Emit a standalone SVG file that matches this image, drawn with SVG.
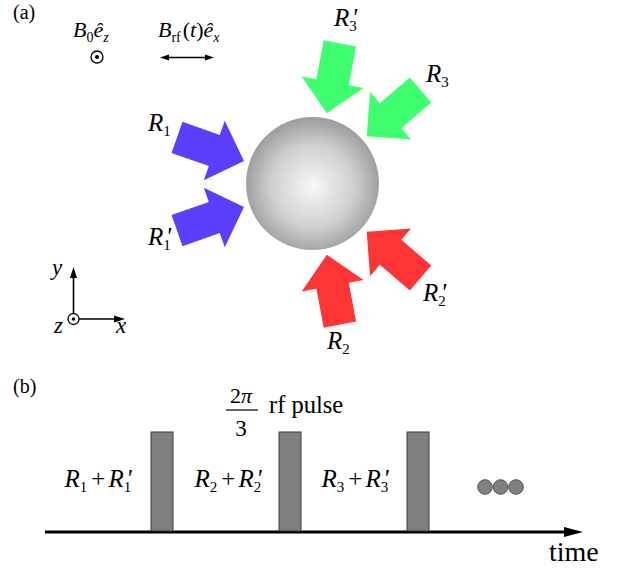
<svg xmlns="http://www.w3.org/2000/svg" width="630" height="570" viewBox="0 0 630 570">
<style>
text{font-family:"Liberation Serif","Times New Roman","DejaVu Serif",serif;fill:#000}
.i{font-style:italic}
.s{font-size:14px}
.ls{font-size:15px}
.lab{font-size:25px}
.blu{fill:#5b3fff}
.grn{fill:#3fff70}
.red{fill:#ff3535}
.pulse{fill:#7f7f7f;stroke:#3a3a3a;stroke-width:1}
.dot{fill:#808080;stroke:#555;stroke-width:1}
.ax{stroke:#000;stroke-width:1.6;fill:none}
</style>
<defs>
<radialGradient id="sph" cx="50%" cy="52%" r="52%">
<stop offset="0" stop-color="#f8f8f8"/>
<stop offset="0.6" stop-color="#cfcfcf"/>
<stop offset="1" stop-color="#9c9c9c"/>
</radialGradient>
<polygon id="blk" points="0,0 -31.5,-31.5 -31.5,-16.5 -71,-16.5 -71,16.5 -31.5,16.5 -31.5,31.5"/>
</defs>
<rect width="630" height="570" fill="#fff"/>

<g id="panel-a">
<text x="13" y="19" font-size="20">(a)</text>

<g id="B0">
<text x="73" y="37" font-size="22"><tspan class="i">B</tspan><tspan class="s" dy="5">0</tspan><tspan class="i" dy="-5">ê</tspan><tspan class="s i" dy="5">z</tspan></text>
<circle cx="97" cy="57" r="6" fill="none" stroke="#000" stroke-width="1.3"/>
<circle cx="97" cy="57" r="2" fill="#000"/>
</g>

<g id="Brf">
<text x="158" y="37" font-size="22"><tspan class="i">B</tspan><tspan class="s" dy="5">rf</tspan><tspan dy="-5" dx="2">(</tspan><tspan class="i">t</tspan><tspan>)</tspan><tspan class="i">ê</tspan><tspan class="s i" dy="5">x</tspan></text>
<line x1="167" y1="57.5" x2="206" y2="57.5" stroke="#000" stroke-width="1.6"/>
<polygon points="160,57.5 169,54.5 169,60.5" fill="#000"/>
<polygon points="214,57.5 205,54.5 205,60.5" fill="#000"/>
</g>

<g id="sphere">
<circle cx="312.5" cy="183.5" r="66.5" fill="url(#sph)"/>
</g>

<g id="R1">
<use href="#blk" class="blu" transform="translate(244,161) rotate(19.4)"/>
<text x="148" y="131" class="lab"><tspan class="i">R</tspan><tspan class="ls" dy="5">1</tspan></text>
</g>
<g id="R1p">
<use href="#blk" class="blu" transform="translate(244,207) rotate(-19.4)"/>
<text x="148" y="245" class="lab"><tspan class="i">R</tspan><tspan class="ls" dy="5">1</tspan><tspan class="i" dx="-5" dy="-5">'</tspan></text>
</g>
<g id="R3">
<use href="#blk" class="grn" transform="rotate(120 312.5 184) translate(244,161) rotate(19.4)"/>
<text x="426" y="82" class="lab"><tspan class="i">R</tspan><tspan class="ls" dy="5">3</tspan></text>
</g>
<g id="R3p">
<use href="#blk" class="grn" transform="rotate(120 312.5 184) translate(244,207) rotate(-19.4)"/>
<text x="334" y="26" class="lab"><tspan class="i">R</tspan><tspan class="ls" dy="5">3</tspan><tspan class="i" dx="-5" dy="-5">'</tspan></text>
</g>
<g id="R2">
<use href="#blk" class="red" transform="rotate(240 312.5 184) translate(244,161) rotate(19.4)"/>
<text x="327" y="349" class="lab"><tspan class="i">R</tspan><tspan class="ls" dy="5">2</tspan></text>
</g>
<g id="R2p">
<use href="#blk" class="red" transform="rotate(240 312.5 184) translate(244,207) rotate(-19.4)"/>
<text x="423" y="301" class="lab"><tspan class="i">R</tspan><tspan class="ls" dy="5">2</tspan><tspan class="i" dx="-5" dy="-5">'</tspan></text>
</g>

<g id="axes">
<circle cx="73.5" cy="319" r="5.5" fill="none" stroke="#000" stroke-width="1.3"/>
<circle cx="73.5" cy="319" r="1.8" fill="#000"/>
<line class="ax" x1="73.5" y1="313.5" x2="73.5" y2="276"/>
<polygon points="73.5,267 70,278 77,278" fill="#000"/>
<line class="ax" x1="79" y1="319" x2="116" y2="319"/>
<polygon points="125,319 114,315.5 114,322.5" fill="#000"/>
<text x="52" y="275" font-size="23" class="i">y</text>
<text x="54" y="333" font-size="23" class="i">z</text>
<text x="116" y="333" font-size="23" class="i">x</text>
</g>
</g>

<g id="panel-b">
<text x="13" y="393" font-size="20">(b)</text>

<g id="pulse-label">
<text x="241" y="403" font-size="22" text-anchor="middle"><tspan>2</tspan><tspan class="i">π</tspan></text>
<line x1="226" y1="410" x2="258" y2="410" stroke="#000" stroke-width="1.2"/>
<text x="241" y="436" font-size="23" text-anchor="middle">3</text>
<text x="269" y="413" font-size="24.5">rf pulse</text>
</g>

<g id="connectors">
<line x1="45" y1="532" x2="568" y2="532" stroke="#000" stroke-width="3"/>
<polygon points="583,532 564,527 564,537" fill="#000"/>
</g>

<g id="pulse1"><rect class="pulse" x="151" y="432" width="22" height="99"/></g>
<g id="pulse2"><rect class="pulse" x="279" y="432" width="22" height="99"/></g>
<g id="pulse3"><rect class="pulse" x="407" y="432" width="22" height="99"/></g>

<g id="seg1"><text x="98" y="487" font-size="25" text-anchor="middle"><tspan class="i">R</tspan><tspan class="ls" dy="5">1</tspan><tspan dy="-5" dx="4">+</tspan><tspan class="i" dx="3">R</tspan><tspan class="ls" dy="5">1</tspan><tspan class="i" dx="-5" dy="-5">'</tspan></text></g>
<g id="seg2"><text x="228" y="487" font-size="25" text-anchor="middle"><tspan class="i">R</tspan><tspan class="ls" dy="5">2</tspan><tspan dy="-5" dx="4">+</tspan><tspan class="i" dx="3">R</tspan><tspan class="ls" dy="5">2</tspan><tspan class="i" dx="-5" dy="-5">'</tspan></text></g>
<g id="seg3"><text x="355" y="487" font-size="25" text-anchor="middle"><tspan class="i">R</tspan><tspan class="ls" dy="5">3</tspan><tspan dy="-5" dx="4">+</tspan><tspan class="i" dx="3">R</tspan><tspan class="ls" dy="5">3</tspan><tspan class="i" dx="-5" dy="-5">'</tspan></text></g>

<g id="ellipsis">
<circle class="dot" cx="485" cy="487" r="7.3"/>
<circle class="dot" cx="500.5" cy="487" r="7.3"/>
<circle class="dot" cx="516" cy="487" r="7.3"/>
</g>

<text x="549" y="561" font-size="28">time</text>
</g>
</svg>
